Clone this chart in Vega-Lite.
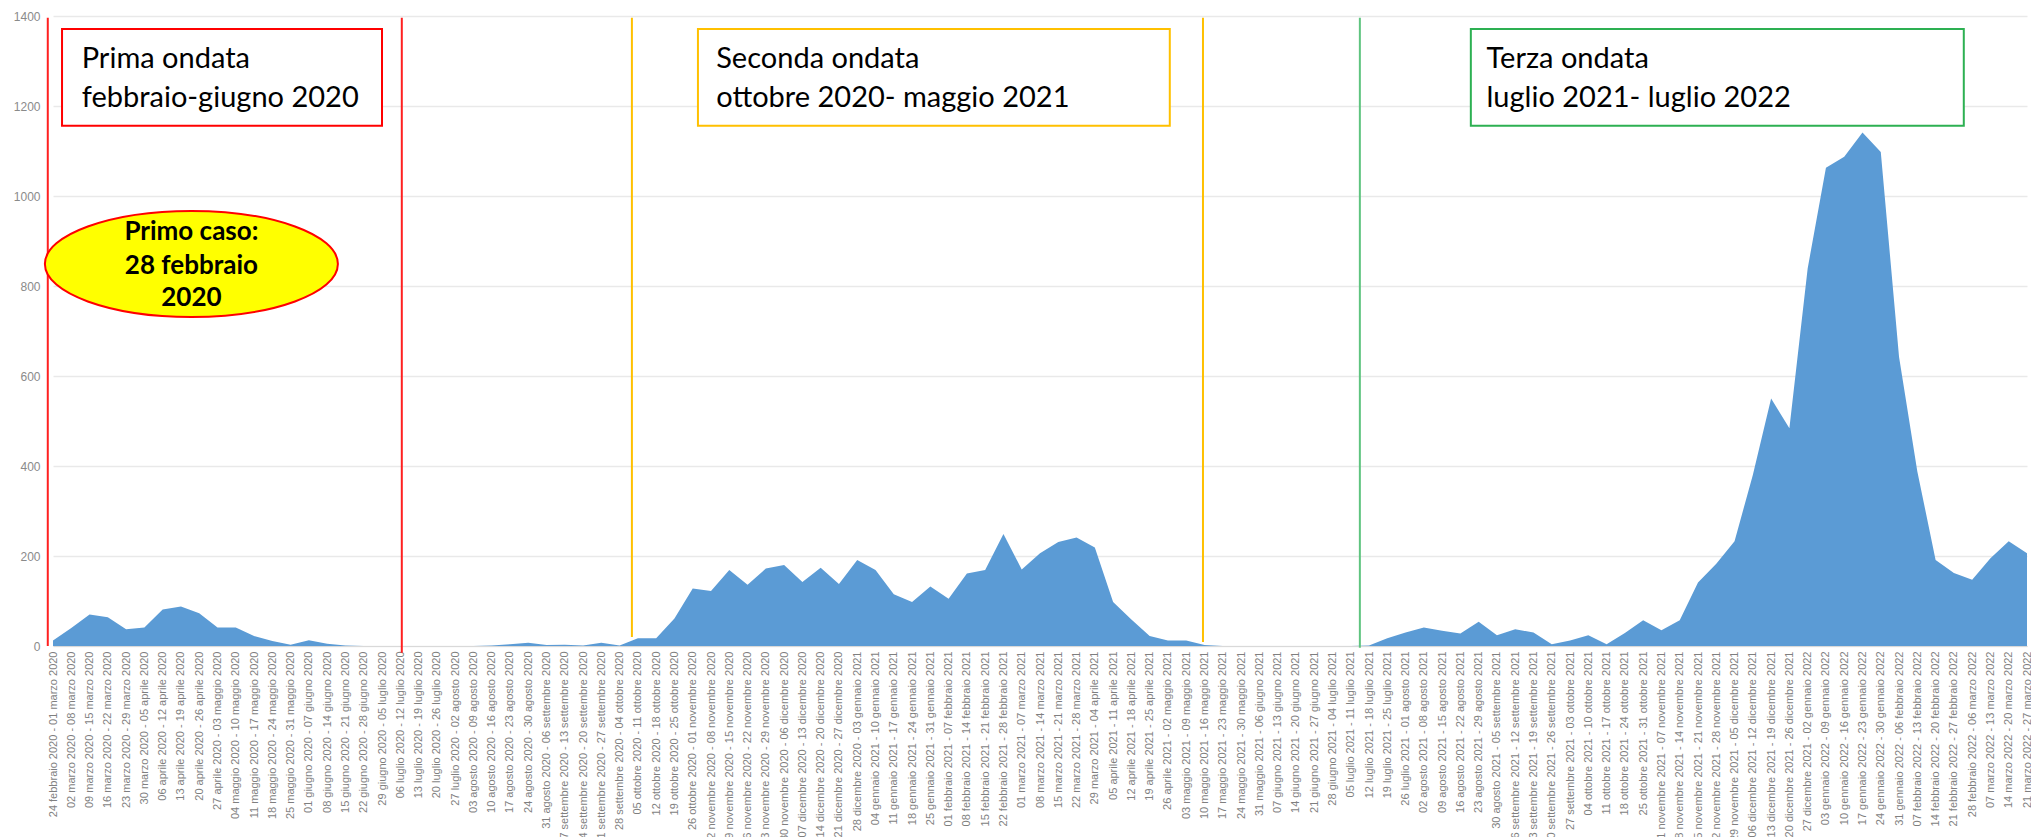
{
  "$schema": "https://vega.github.io/schema/vega-lite/v6.json",
  "autosize": {"type": "none"},
  "padding": {"left": 53, "top": 16, "right": 4, "bottom": 191},
  "width": 1974,
  "height": 630,
  "background": "white",
  "config": {"view": {"stroke": null}},
  "datasets": {
    "settimane": [
      {"settimana": "2020-02-24", "valore": 12},
      {"settimana": "2020-03-02", "valore": 40},
      {"settimana": "2020-03-09", "valore": 70},
      {"settimana": "2020-03-16", "valore": 64},
      {"settimana": "2020-03-23", "valore": 37},
      {"settimana": "2020-03-30", "valore": 41},
      {"settimana": "2020-04-06", "valore": 81},
      {"settimana": "2020-04-13", "valore": 88},
      {"settimana": "2020-04-20", "valore": 73},
      {"settimana": "2020-04-27", "valore": 41},
      {"settimana": "2020-05-04", "valore": 41},
      {"settimana": "2020-05-11", "valore": 22},
      {"settimana": "2020-05-18", "valore": 11},
      {"settimana": "2020-05-25", "valore": 3},
      {"settimana": "2020-06-01", "valore": 13},
      {"settimana": "2020-06-08", "valore": 5},
      {"settimana": "2020-06-15", "valore": 1},
      {"settimana": "2020-06-22", "valore": 0},
      {"settimana": "2020-06-29", "valore": 0},
      {"settimana": "2020-07-06", "valore": 0},
      {"settimana": "2020-07-13", "valore": 0},
      {"settimana": "2020-07-20", "valore": 0},
      {"settimana": "2020-07-27", "valore": 0},
      {"settimana": "2020-08-03", "valore": 0},
      {"settimana": "2020-08-10", "valore": 1},
      {"settimana": "2020-08-17", "valore": 4},
      {"settimana": "2020-08-24", "valore": 7},
      {"settimana": "2020-08-31", "valore": 2},
      {"settimana": "2020-09-07", "valore": 3},
      {"settimana": "2020-09-14", "valore": 1},
      {"settimana": "2020-09-21", "valore": 7},
      {"settimana": "2020-09-28", "valore": 1},
      {"settimana": "2020-10-05", "valore": 17},
      {"settimana": "2020-10-12", "valore": 17},
      {"settimana": "2020-10-19", "valore": 61},
      {"settimana": "2020-10-26", "valore": 128},
      {"settimana": "2020-11-02", "valore": 122},
      {"settimana": "2020-11-09", "valore": 169},
      {"settimana": "2020-11-16", "valore": 136},
      {"settimana": "2020-11-23", "valore": 172},
      {"settimana": "2020-11-30", "valore": 180},
      {"settimana": "2020-12-07", "valore": 142},
      {"settimana": "2020-12-14", "valore": 174},
      {"settimana": "2020-12-21", "valore": 138},
      {"settimana": "2020-12-28", "valore": 191},
      {"settimana": "2021-01-04", "valore": 169},
      {"settimana": "2021-01-11", "valore": 115},
      {"settimana": "2021-01-18", "valore": 98},
      {"settimana": "2021-01-25", "valore": 132},
      {"settimana": "2021-02-01", "valore": 105},
      {"settimana": "2021-02-08", "valore": 161},
      {"settimana": "2021-02-15", "valore": 169},
      {"settimana": "2021-02-22", "valore": 249},
      {"settimana": "2021-03-01", "valore": 170},
      {"settimana": "2021-03-08", "valore": 206},
      {"settimana": "2021-03-15", "valore": 231},
      {"settimana": "2021-03-22", "valore": 241},
      {"settimana": "2021-03-29", "valore": 219},
      {"settimana": "2021-04-05", "valore": 98},
      {"settimana": "2021-04-12", "valore": 59},
      {"settimana": "2021-04-19", "valore": 22},
      {"settimana": "2021-04-26", "valore": 12},
      {"settimana": "2021-05-03", "valore": 12},
      {"settimana": "2021-05-10", "valore": 2},
      {"settimana": "2021-05-17", "valore": 0},
      {"settimana": "2021-05-24", "valore": 0},
      {"settimana": "2021-05-31", "valore": 0},
      {"settimana": "2021-06-07", "valore": 0},
      {"settimana": "2021-06-14", "valore": 0},
      {"settimana": "2021-06-21", "valore": 0},
      {"settimana": "2021-06-28", "valore": 0},
      {"settimana": "2021-07-05", "valore": 0},
      {"settimana": "2021-07-12", "valore": 1},
      {"settimana": "2021-07-19", "valore": 17},
      {"settimana": "2021-07-26", "valore": 30},
      {"settimana": "2021-08-02", "valore": 41},
      {"settimana": "2021-08-09", "valore": 34},
      {"settimana": "2021-08-16", "valore": 28},
      {"settimana": "2021-08-23", "valore": 54},
      {"settimana": "2021-08-30", "valore": 24},
      {"settimana": "2021-09-06", "valore": 37},
      {"settimana": "2021-09-13", "valore": 30},
      {"settimana": "2021-09-20", "valore": 4},
      {"settimana": "2021-09-27", "valore": 12},
      {"settimana": "2021-10-04", "valore": 24},
      {"settimana": "2021-10-11", "valore": 4},
      {"settimana": "2021-10-18", "valore": 29},
      {"settimana": "2021-10-25", "valore": 57},
      {"settimana": "2021-11-01", "valore": 35},
      {"settimana": "2021-11-08", "valore": 57},
      {"settimana": "2021-11-15", "valore": 141},
      {"settimana": "2021-11-22", "valore": 183},
      {"settimana": "2021-11-29", "valore": 233},
      {"settimana": "2021-12-06", "valore": 380},
      {"settimana": "2021-12-13", "valore": 550},
      {"settimana": "2021-12-20", "valore": 484},
      {"settimana": "2021-12-27", "valore": 839},
      {"settimana": "2022-01-03", "valore": 1063},
      {"settimana": "2022-01-10", "valore": 1087},
      {"settimana": "2022-01-17", "valore": 1141},
      {"settimana": "2022-01-24", "valore": 1098},
      {"settimana": "2022-01-31", "valore": 642},
      {"settimana": "2022-02-07", "valore": 388},
      {"settimana": "2022-02-14", "valore": 191},
      {"settimana": "2022-02-21", "valore": 162},
      {"settimana": "2022-02-28", "valore": 147},
      {"settimana": "2022-03-07", "valore": 195},
      {"settimana": "2022-03-14", "valore": 233},
      {"settimana": "2022-03-21", "valore": 206}
    ],
    "linee": [
      {"data": "2020-02-22T00:00:00Z", "ondata": "prima", "alto": 1396, "basso": 0},
      {"data": "2020-07-06T14:00:00Z", "ondata": "prima", "alto": 1396, "basso": -15},
      {"data": "2020-10-02T17:00:00Z", "ondata": "seconda", "alto": 1396, "basso": 20},
      {"data": "2021-05-09T10:00:00Z", "ondata": "seconda", "alto": 1396, "basso": 9},
      {"data": "2021-07-08T12:00:00Z", "ondata": "terza", "alto": 1396, "basso": -4}
    ],
    "riquadri": [
      {"inizio": "2020-02-27T11:00:00Z", "fine": "2020-06-29T00:00:00Z", "ondata": "prima", "alto": 1371, "basso": 1156},
      {"inizio": "2020-10-28T00:00:00Z", "fine": "2021-04-26T17:00:00Z", "ondata": "seconda", "alto": 1371, "basso": 1156},
      {"inizio": "2021-08-20T00:00:00Z", "fine": "2022-02-24T19:00:00Z", "ondata": "terza", "alto": 1371, "basso": 1156}
    ],
    "testi": [
      {"data": "2020-03-06T00:00:00Z", "livello": 1284, "testo": "Prima ondata"},
      {"data": "2020-03-06T00:00:00Z", "livello": 1198, "testo": "febbraio-giugno 2020"},
      {"data": "2020-11-04T00:00:00Z", "livello": 1284, "testo": "Seconda ondata"},
      {"data": "2020-11-04T00:00:00Z", "livello": 1198, "testo": "ottobre 2020- maggio 2021"},
      {"data": "2021-08-26T00:00:00Z", "livello": 1284, "testo": "Terza ondata"},
      {"data": "2021-08-26T00:00:00Z", "livello": 1198, "testo": "luglio 2021- luglio 2022"}
    ],
    "ellisse": [
      {"data": "2020-04-17T00:00:00Z", "livello": 849}
    ],
    "testiEllisse": [
      {"data": "2020-04-17T00:00:00Z", "livello": 902, "testo": "Primo caso:"},
      {"data": "2020-04-17T00:00:00Z", "livello": 827, "testo": "28 febbraio"},
      {"data": "2020-04-17T00:00:00Z", "livello": 756, "testo": "2020"}
    ]
  },
  "layer": [
    {
      "data": {"name": "settimane"},
      "mark": {"type": "area", "color": "#5B9BD5", "interpolate": "linear"},
      "encoding": {
        "x": {
          "field": "settimana",
          "type": "temporal",
          "title": null,
          "scale": {
            "type": "utc",
            "nice": false,
            "domain": [
              {"year": 2020, "month": 2, "date": 24, "utc": true},
              {"year": 2022, "month": 3, "date": 21, "utc": true}
            ]
          },
          "axis": {
            "tickCount": 500,
            "values": [
              {"year": 2020, "month": 2, "date": 24, "utc": true},
              {"year": 2020, "month": 3, "date": 2, "utc": true},
              {"year": 2020, "month": 3, "date": 9, "utc": true},
              {"year": 2020, "month": 3, "date": 16, "utc": true},
              {"year": 2020, "month": 3, "date": 23, "utc": true},
              {"year": 2020, "month": 3, "date": 30, "utc": true},
              {"year": 2020, "month": 4, "date": 6, "utc": true},
              {"year": 2020, "month": 4, "date": 13, "utc": true},
              {"year": 2020, "month": 4, "date": 20, "utc": true},
              {"year": 2020, "month": 4, "date": 27, "utc": true},
              {"year": 2020, "month": 5, "date": 4, "utc": true},
              {"year": 2020, "month": 5, "date": 11, "utc": true},
              {"year": 2020, "month": 5, "date": 18, "utc": true},
              {"year": 2020, "month": 5, "date": 25, "utc": true},
              {"year": 2020, "month": 6, "date": 1, "utc": true},
              {"year": 2020, "month": 6, "date": 8, "utc": true},
              {"year": 2020, "month": 6, "date": 15, "utc": true},
              {"year": 2020, "month": 6, "date": 22, "utc": true},
              {"year": 2020, "month": 6, "date": 29, "utc": true},
              {"year": 2020, "month": 7, "date": 6, "utc": true},
              {"year": 2020, "month": 7, "date": 13, "utc": true},
              {"year": 2020, "month": 7, "date": 20, "utc": true},
              {"year": 2020, "month": 7, "date": 27, "utc": true},
              {"year": 2020, "month": 8, "date": 3, "utc": true},
              {"year": 2020, "month": 8, "date": 10, "utc": true},
              {"year": 2020, "month": 8, "date": 17, "utc": true},
              {"year": 2020, "month": 8, "date": 24, "utc": true},
              {"year": 2020, "month": 8, "date": 31, "utc": true},
              {"year": 2020, "month": 9, "date": 7, "utc": true},
              {"year": 2020, "month": 9, "date": 14, "utc": true},
              {"year": 2020, "month": 9, "date": 21, "utc": true},
              {"year": 2020, "month": 9, "date": 28, "utc": true},
              {"year": 2020, "month": 10, "date": 5, "utc": true},
              {"year": 2020, "month": 10, "date": 12, "utc": true},
              {"year": 2020, "month": 10, "date": 19, "utc": true},
              {"year": 2020, "month": 10, "date": 26, "utc": true},
              {"year": 2020, "month": 11, "date": 2, "utc": true},
              {"year": 2020, "month": 11, "date": 9, "utc": true},
              {"year": 2020, "month": 11, "date": 16, "utc": true},
              {"year": 2020, "month": 11, "date": 23, "utc": true},
              {"year": 2020, "month": 11, "date": 30, "utc": true},
              {"year": 2020, "month": 12, "date": 7, "utc": true},
              {"year": 2020, "month": 12, "date": 14, "utc": true},
              {"year": 2020, "month": 12, "date": 21, "utc": true},
              {"year": 2020, "month": 12, "date": 28, "utc": true},
              {"year": 2021, "month": 1, "date": 4, "utc": true},
              {"year": 2021, "month": 1, "date": 11, "utc": true},
              {"year": 2021, "month": 1, "date": 18, "utc": true},
              {"year": 2021, "month": 1, "date": 25, "utc": true},
              {"year": 2021, "month": 2, "date": 1, "utc": true},
              {"year": 2021, "month": 2, "date": 8, "utc": true},
              {"year": 2021, "month": 2, "date": 15, "utc": true},
              {"year": 2021, "month": 2, "date": 22, "utc": true},
              {"year": 2021, "month": 3, "date": 1, "utc": true},
              {"year": 2021, "month": 3, "date": 8, "utc": true},
              {"year": 2021, "month": 3, "date": 15, "utc": true},
              {"year": 2021, "month": 3, "date": 22, "utc": true},
              {"year": 2021, "month": 3, "date": 29, "utc": true},
              {"year": 2021, "month": 4, "date": 5, "utc": true},
              {"year": 2021, "month": 4, "date": 12, "utc": true},
              {"year": 2021, "month": 4, "date": 19, "utc": true},
              {"year": 2021, "month": 4, "date": 26, "utc": true},
              {"year": 2021, "month": 5, "date": 3, "utc": true},
              {"year": 2021, "month": 5, "date": 10, "utc": true},
              {"year": 2021, "month": 5, "date": 17, "utc": true},
              {"year": 2021, "month": 5, "date": 24, "utc": true},
              {"year": 2021, "month": 5, "date": 31, "utc": true},
              {"year": 2021, "month": 6, "date": 7, "utc": true},
              {"year": 2021, "month": 6, "date": 14, "utc": true},
              {"year": 2021, "month": 6, "date": 21, "utc": true},
              {"year": 2021, "month": 6, "date": 28, "utc": true},
              {"year": 2021, "month": 7, "date": 5, "utc": true},
              {"year": 2021, "month": 7, "date": 12, "utc": true},
              {"year": 2021, "month": 7, "date": 19, "utc": true},
              {"year": 2021, "month": 7, "date": 26, "utc": true},
              {"year": 2021, "month": 8, "date": 2, "utc": true},
              {"year": 2021, "month": 8, "date": 9, "utc": true},
              {"year": 2021, "month": 8, "date": 16, "utc": true},
              {"year": 2021, "month": 8, "date": 23, "utc": true},
              {"year": 2021, "month": 8, "date": 30, "utc": true},
              {"year": 2021, "month": 9, "date": 6, "utc": true},
              {"year": 2021, "month": 9, "date": 13, "utc": true},
              {"year": 2021, "month": 9, "date": 20, "utc": true},
              {"year": 2021, "month": 9, "date": 27, "utc": true},
              {"year": 2021, "month": 10, "date": 4, "utc": true},
              {"year": 2021, "month": 10, "date": 11, "utc": true},
              {"year": 2021, "month": 10, "date": 18, "utc": true},
              {"year": 2021, "month": 10, "date": 25, "utc": true},
              {"year": 2021, "month": 11, "date": 1, "utc": true},
              {"year": 2021, "month": 11, "date": 8, "utc": true},
              {"year": 2021, "month": 11, "date": 15, "utc": true},
              {"year": 2021, "month": 11, "date": 22, "utc": true},
              {"year": 2021, "month": 11, "date": 29, "utc": true},
              {"year": 2021, "month": 12, "date": 6, "utc": true},
              {"year": 2021, "month": 12, "date": 13, "utc": true},
              {"year": 2021, "month": 12, "date": 20, "utc": true},
              {"year": 2021, "month": 12, "date": 27, "utc": true},
              {"year": 2022, "month": 1, "date": 3, "utc": true},
              {"year": 2022, "month": 1, "date": 10, "utc": true},
              {"year": 2022, "month": 1, "date": 17, "utc": true},
              {"year": 2022, "month": 1, "date": 24, "utc": true},
              {"year": 2022, "month": 1, "date": 31, "utc": true},
              {"year": 2022, "month": 2, "date": 7, "utc": true},
              {"year": 2022, "month": 2, "date": 14, "utc": true},
              {"year": 2022, "month": 2, "date": 21, "utc": true},
              {"year": 2022, "month": 2, "date": 28, "utc": true},
              {"year": 2022, "month": 3, "date": 7, "utc": true},
              {"year": 2022, "month": 3, "date": 14, "utc": true},
              {"year": 2022, "month": 3, "date": 21, "utc": true}
            ],
            "labelExpr": "utcFormat(datum.value, '%d') + ' ' + ['gennaio','febbraio','marzo','aprile','maggio','giugno','luglio','agosto','settembre','ottobre','novembre','dicembre'][utcmonth(datum.value)] + ' ' + utcyear(datum.value) + ' - ' + utcFormat(time(datum.value) + 518400000, '%d') + ' ' + ['gennaio','febbraio','marzo','aprile','maggio','giugno','luglio','agosto','settembre','ottobre','novembre','dicembre'][utcmonth(time(datum.value) + 518400000)] + ' ' + utcyear(time(datum.value) + 518400000)",
            "labelAngle": -90,
            "labelFont": "Liberation Sans",
            "labelFontSize": 11,
            "labelColor": "#7f7f7f",
            "labelPadding": 5,
            "labelLimit": 400,
            "labelOverlap": false,
            "labelFlush": false,
            "labelBound": false,
            "ticks": false,
            "grid": false,
            "domain": true,
            "domainColor": "#d9d9d9",
            "domainWidth": 1
          }
        },
        "y": {
          "field": "valore",
          "type": "quantitative",
          "title": null,
          "scale": {"domain": [0, 1400], "nice": false, "zero": true},
          "axis": {
            "values": [0, 200, 400, 600, 800, 1000, 1200, 1400],
            "format": "d",
            "domain": false,
            "ticks": false,
            "grid": true,
            "gridColor": "#e9e9e9",
            "gridWidth": 1.5,
            "labelFont": "Liberation Sans",
            "labelFontSize": 12,
            "labelColor": "#8a8a8a",
            "labelPadding": 13
          }
        }
      }
    },
    {
      "data": {"name": "linee"},
      "mark": {"type": "rule", "strokeWidth": 2},
      "encoding": {
        "x": {"field": "data", "type": "temporal"},
        "y": {"field": "alto", "type": "quantitative"},
        "y2": {"field": "basso"},
        "color": {
          "field": "ondata",
          "type": "nominal",
          "scale": {"domain": ["prima", "seconda", "terza"], "range": ["#FF2020", "#FFC000", "#5FC47F"]},
          "legend": null
        }
      }
    },
    {
      "data": {"name": "riquadri"},
      "mark": {"type": "rect", "fill": "white", "strokeWidth": 2},
      "encoding": {
        "x": {"field": "inizio", "type": "temporal"},
        "x2": {"field": "fine"},
        "y": {"field": "alto", "type": "quantitative"},
        "y2": {"field": "basso"},
        "stroke": {
          "field": "ondata",
          "type": "nominal",
          "scale": {"domain": ["prima", "seconda", "terza"], "range": ["#FF0000", "#FFC000", "#2DB052"]},
          "legend": null
        }
      }
    },
    {
      "data": {"name": "testi"},
      "mark": {"type": "text", "align": "left", "baseline": "alphabetic", "font": "Lato", "fontSize": 29, "color": "black"},
      "encoding": {
        "x": {"field": "data", "type": "temporal"},
        "y": {"field": "livello", "type": "quantitative"},
        "text": {"field": "testo", "type": "nominal"}
      }
    },
    {
      "data": {"name": "ellisse"},
      "mark": {
        "type": "point",
        "shape": "M-1,0C-1,-0.2,-0.5523,-0.362,0,-0.362C0.5523,-0.362,1,-0.2,1,0C1,0.2,0.5523,0.362,0,0.362C-0.5523,0.362,-1,0.2,-1,0Z",
        "size": 85849,
        "filled": true,
        "fill": "#FFFF00",
        "fillOpacity": 1,
        "stroke": "#FF0000",
        "strokeWidth": 2,
        "opacity": 1
      },
      "encoding": {
        "x": {"field": "data", "type": "temporal"},
        "y": {"field": "livello", "type": "quantitative"}
      }
    },
    {
      "data": {"name": "testiEllisse"},
      "mark": {"type": "text", "align": "center", "baseline": "alphabetic", "font": "Lato", "fontWeight": "bold", "fontSize": 26, "color": "black"},
      "encoding": {
        "x": {"field": "data", "type": "temporal"},
        "y": {"field": "livello", "type": "quantitative"},
        "text": {"field": "testo", "type": "nominal"}
      }
    }
  ],
  "resolve": {"scale": {"color": "independent", "stroke": "independent"}}
}
